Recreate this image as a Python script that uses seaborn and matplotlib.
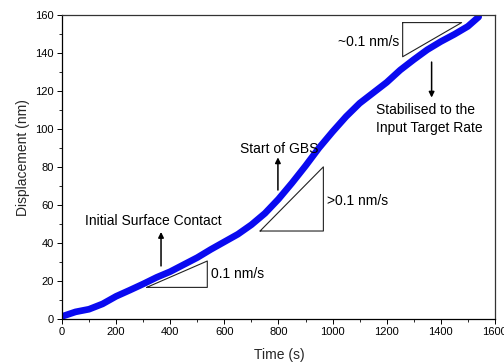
import matplotlib
matplotlib.use("Agg")
import matplotlib.pyplot as plt
import numpy as np
import pandas as pd
import seaborn as sns
from matplotlib.ticker import MultipleLocator

# Displacement history during the test
time_s = [0, 50, 100, 150, 200, 250, 300, 350, 400, 450, 500, 550, 600, 650,
          700, 750, 800, 850, 900, 950, 1000, 1050, 1100, 1150, 1200, 1250,
          1300, 1350, 1400, 1450, 1500, 1540]
displacement_nm = [1.2, 3.6, 5.0, 7.8, 11.8, 15.0, 18.3, 21.8, 24.8, 28.5,
                   32.2, 36.5, 40.5, 44.5, 49.5, 55.5, 63.0, 71.5, 80.5, 90.0,
                   98.5, 106.5, 113.5, 119.0, 124.5, 131.0, 136.5, 141.7,
                   146.0, 149.8, 154.0, 159.0]

x_ticks = [0, 200, 400, 600, 800, 1000, 1200, 1400, 1600]
y_ticks = [0, 20, 40, 60, 80, 100, 120, 140, 160]

df = pd.DataFrame({"Time (s)": time_s, "Displacement (nm)": displacement_nm})

sns.set_style("ticks")
plt.rcParams["font.family"] = ["Liberation Sans", "DejaVu Sans"]

fig = plt.figure(figsize=(5.04, 3.63), dpi=100)
ax = fig.add_axes([0.123, 0.122, 0.859, 0.8367])

sns.lineplot(data=df, x="Time (s)", y="Displacement (nm)", ax=ax,
             color="#0a0af0", linewidth=4.8, solid_capstyle="round",
             solid_joinstyle="round")

ax.set_xlim(0, 1600)
ax.set_ylim(0, 160)
ax.set_xticks(x_ticks)
ax.set_yticks(y_ticks)
ax.xaxis.set_minor_locator(MultipleLocator(100))
ax.yaxis.set_minor_locator(MultipleLocator(10))
ax.tick_params(which="major", direction="out", length=3.6, width=0.7,
               labelsize=8, pad=2.5, colors="black")
ax.tick_params(which="minor", direction="out", length=2.2, width=0.7)
ax.tick_params(top=False, right=False, which="both")

for side in ["left", "bottom"]:
    ax.spines[side].set_color("black")
    ax.spines[side].set_linewidth(0.9)
for side in ["top", "right"]:
    ax.spines[side].set_visible(True)
    ax.spines[side].set_color("#333333")
    ax.spines[side].set_linewidth(0.9)

ax.set_xlabel("Time (s)", fontsize=10)
ax.set_ylabel("Displacement (nm)", fontsize=10)
ax.xaxis.set_label_coords(0.501, -0.096)
ax.yaxis.set_label_coords(-0.075, 0.532)

# slope triangles
tri_kw = dict(color="#222222", linewidth=0.8)
ax.plot([313, 537, 537, 313], [16.5, 16.5, 30.4, 16.5], **tri_kw)
ax.plot([732, 966, 966, 732], [46.2, 46.2, 80.0, 46.2], **tri_kw)
ax.plot([1259, 1477, 1259, 1259], [156.0, 156.0, 138.0, 156.0], **tri_kw)

txt_kw = dict(fontsize=10, color="black")
ax.text(549, 23.4, "0.1 nm/s", ha="left", va="center", **txt_kw)
ax.text(980, 62.2, ">0.1 nm/s", ha="left", va="center", **txt_kw)
ax.text(1247, 146.0, "~0.1 nm/s", ha="right", va="center", **txt_kw)

arrow_kw = dict(arrowstyle="-|>", color="black", lw=1.1, mutation_scale=8,
                shrinkA=0, shrinkB=0)
ax.annotate("", xy=(366, 45.7), xytext=(366, 27.8), arrowprops=arrow_kw)
ax.text(339, 51.5, "Initial Surface Contact", ha="center", va="center", **txt_kw)

ax.annotate("", xy=(798, 85.0), xytext=(798, 67.8), arrowprops=arrow_kw)
ax.text(804, 89.5, "Start of GBS", ha="center", va="center", **txt_kw)

ax.annotate("", xy=(1366, 116.5), xytext=(1366, 135.2), arrowprops=arrow_kw)
ax.text(1160, 110.0, "Stabilised to the", ha="left", va="center", **txt_kw)
ax.text(1160, 100.4, "Input Target Rate", ha="left", va="center", **txt_kw)

fig.savefig("out.png", dpi=100)
